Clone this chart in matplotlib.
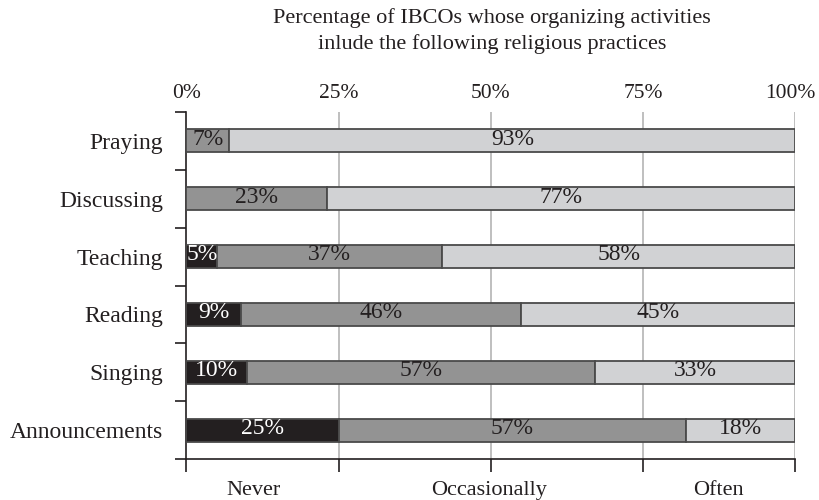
import matplotlib.pyplot as plt
import numpy as np

# data
practices = ['Praying', 'Discussing', 'Teaching', 'Reading', 'Singing', 'Announcements']
never = [0, 0, 5, 9, 10, 25]
occasionally = [7, 23, 37, 46, 57, 57]
often = [93, 77, 58, 45, 33, 18]
levels = ['Never', 'Occasionally', 'Often']
level_pos = [11, 49.7, 87.4]  # where the level names sit along the x axis
ticks = [0, 25, 50, 75, 100]

colors = ['#231f20', '#939393', '#d1d2d4']
txt_colors = ['white', '#231f20', '#231f20']

plt.rcParams['font.family'] = ['Liberation Serif', 'DejaVu Serif']

fig = plt.figure(figsize=(8.19, 5.0), dpi=100)
ax = fig.add_axes([0.2277, 0.082, 0.7436, 0.694])

y = np.arange(len(practices))
left = np.zeros(len(practices))
for vals, c, tc in zip([never, occasionally, often], colors, txt_colors):
    vals = np.array(vals)
    ax.barh(y, vals, left=left, height=0.4, color=c, edgecolor='#4a4a4a',
            linewidth=1.3, zorder=3)
    for yi, l, v in zip(y, left, vals):
        if v > 0:
            ax.text(l + v / 2, yi - 0.03, '%d%%' % v, ha='center', va='center',
                    color=tc, fontsize=17, zorder=4)
    left += vals

ax.set_xlim(0, 100)
ax.set_ylim(len(practices) - 0.5, -0.5)

# vertical gridlines
for t in ticks[1:]:
    ax.axvline(t, color='#b4b4b4', linewidth=1.2, zorder=1)

# y axis: category names, ticks between categories
ax.set_yticks(y)
ax.set_yticklabels(practices, fontsize=17, color='#231f20')
ax.tick_params(axis='y', which='major', length=0, pad=17)
ax.set_yticks(np.arange(-0.5, len(practices) + 0.5, 1), minor=True)
ax.tick_params(axis='y', which='minor', length=8, width=1.2, color='#231f20')

# x axis: tick marks at bottom, percentage labels written above the plot
ax.set_xticks(ticks)
ax.tick_params(axis='x', which='major', bottom=True, top=False, labelbottom=False,
               length=9, width=1.2, color='#231f20')
for t in ticks:
    dx = -4 if t == 100 else 0  # keep the last label inside the figure
    ax.annotate('%d%%' % t, (t, 1), xycoords=ax.get_xaxis_transform(),
                xytext=(dx, 13), textcoords='offset points', ha='center',
                va='center', fontsize=15.5, color='#231f20')

ax.spines['top'].set_visible(False)
ax.spines['right'].set_visible(False)
ax.spines['left'].set_linewidth(1.2)
ax.spines['bottom'].set_linewidth(1.2)
ax.spines['left'].set_color('#231f20')
ax.spines['bottom'].set_color('#231f20')

# level names in a row below the axis
for name, xp in zip(levels, level_pos):
    ax.text(xp, -0.09, name, transform=ax.get_xaxis_transform(), ha='center',
            va='center', fontsize=16, color='#231f20')

fig.text(0.601, 0.938, 'Percentage of IBCOs whose organizing activities\ninlude the following religious practices',
         ha='center', va='center', fontsize=16, color='#231f20', linespacing=1.45)

fig.savefig('out.png', dpi=100)
